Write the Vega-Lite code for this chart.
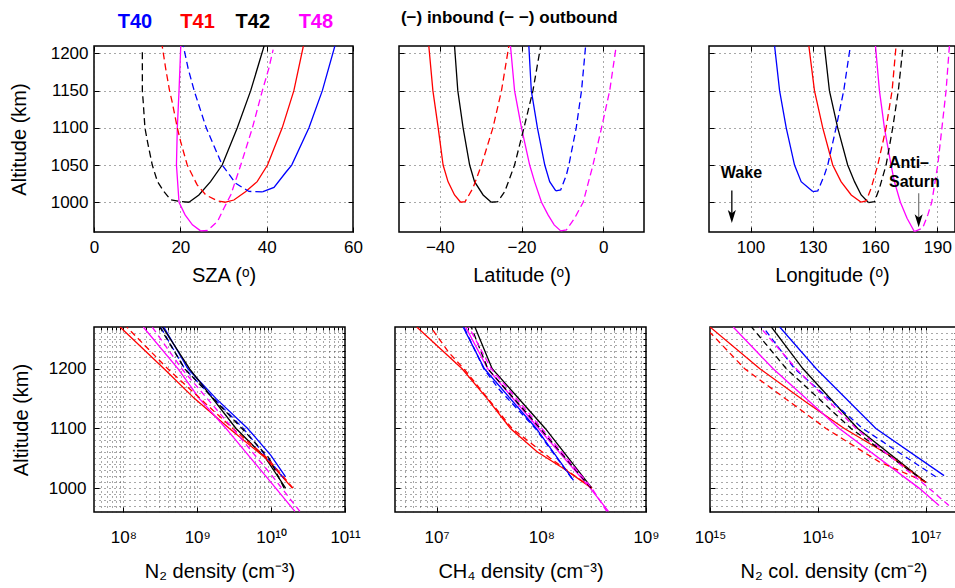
{
  "$schema": "https://vega.github.io/schema/vega-lite/v6.json",
  "background": "white",
  "padding": {"left": 8, "top": 8, "right": 0, "bottom": 0},
  "datasets": {
    "sza": [
      {"f":"T40","l":"in","a":1210,"v":55.8},{"f":"T40","l":"in","a":1150,"v":52.9},{"f":"T40","l":"in","a":1100,"v":49.8},{"f":"T40","l":"in","a":1050,"v":45.8},{"f":"T40","l":"in","a":1040,"v":44.4},{"f":"T40","l":"in","a":1020,"v":41.7},{"f":"T40","l":"in","a":1014,"v":39.0},
      {"f":"T40","l":"out","a":1014,"v":39.0},{"f":"T40","l":"out","a":1014.5,"v":35.9},{"f":"T40","l":"out","a":1025.5,"v":32.8},{"f":"T40","l":"out","a":1050,"v":29.7},{"f":"T40","l":"out","a":1081,"v":27.4},{"f":"T40","l":"out","a":1100,"v":26.0},{"f":"T40","l":"out","a":1150,"v":23.2},{"f":"T40","l":"out","a":1180,"v":21.8},{"f":"T40","l":"out","a":1210,"v":20.7},
      {"f":"T41","l":"in","a":1210,"v":48.5},{"f":"T41","l":"in","a":1150,"v":46.3},{"f":"T41","l":"in","a":1100,"v":43.6},{"f":"T41","l":"in","a":1050,"v":40.2},{"f":"T41","l":"in","a":1027.7,"v":37.8},{"f":"T41","l":"in","a":1014,"v":35.1},{"f":"T41","l":"in","a":1003,"v":32.4},{"f":"T41","l":"in","a":1000,"v":30.5},
      {"f":"T41","l":"out","a":1000,"v":30.5},{"f":"T41","l":"out","a":1001.8,"v":28.6},{"f":"T41","l":"out","a":1009.8,"v":25.9},{"f":"T41","l":"out","a":1023.3,"v":23.9},{"f":"T41","l":"out","a":1050,"v":21.6},{"f":"T41","l":"out","a":1081,"v":20.1},{"f":"T41","l":"out","a":1100,"v":19.3},{"f":"T41","l":"out","a":1135,"v":18.1},{"f":"T41","l":"out","a":1150,"v":17.5},{"f":"T41","l":"out","a":1180,"v":16.6},{"f":"T41","l":"out","a":1210,"v":15.8},
      {"f":"T42","l":"in","a":1210,"v":39.4},{"f":"T42","l":"in","a":1150,"v":36.3},{"f":"T42","l":"in","a":1100,"v":33.2},{"f":"T42","l":"in","a":1050,"v":29.7},{"f":"T42","l":"in","a":1027.7,"v":27.0},{"f":"T42","l":"in","a":1009.8,"v":24.3},{"f":"T42","l":"in","a":1000,"v":22.0},
      {"f":"T42","l":"out","a":1000,"v":22.0},{"f":"T42","l":"out","a":1000.9,"v":20.1},{"f":"T42","l":"out","a":1003.1,"v":17.8},{"f":"T42","l":"out","a":1014.3,"v":16.2},{"f":"T42","l":"out","a":1027.7,"v":14.7},{"f":"T42","l":"out","a":1050,"v":13.5},{"f":"T42","l":"out","a":1081,"v":12.4},{"f":"T42","l":"out","a":1100,"v":11.8},{"f":"T42","l":"out","a":1135,"v":11.4},{"f":"T42","l":"out","a":1150,"v":11.2},{"f":"T42","l":"out","a":1205,"v":11.2},
      {"f":"T48","l":"in","a":1210,"v":20.1},{"f":"T48","l":"in","a":1150,"v":19.7},{"f":"T48","l":"in","a":1100,"v":19.3},{"f":"T48","l":"in","a":1050,"v":19.1},{"f":"T48","l":"in","a":1000,"v":19.7},{"f":"T48","l":"in","a":983,"v":21.1},{"f":"T48","l":"in","a":969.6,"v":22.8},{"f":"T48","l":"in","a":961.5,"v":24.7},
      {"f":"T48","l":"out","a":961.5,"v":24.7},{"f":"T48","l":"out","a":962,"v":26.3},{"f":"T48","l":"out","a":974,"v":28.6},{"f":"T48","l":"out","a":992,"v":30.1},{"f":"T48","l":"out","a":1010,"v":31.7},{"f":"T48","l":"out","a":1050,"v":34.0},{"f":"T48","l":"out","a":1100,"v":36.7},{"f":"T48","l":"out","a":1150,"v":39.0},{"f":"T48","l":"out","a":1180,"v":40.5},{"f":"T48","l":"out","a":1205,"v":41.5}
    ],
    "lat": [
      {"f":"T41","l":"in","a":1210,"v":-42.7},{"f":"T41","l":"in","a":1150,"v":-41.7},{"f":"T41","l":"in","a":1100,"v":-40.4},{"f":"T41","l":"in","a":1050,"v":-39.2},{"f":"T41","l":"in","a":1027.7,"v":-38.0},{"f":"T41","l":"in","a":1009.8,"v":-36.4},{"f":"T41","l":"in","a":1000,"v":-34.9},
      {"f":"T41","l":"out","a":1000,"v":-34.9},{"f":"T41","l":"out","a":1000.9,"v":-33.8},{"f":"T41","l":"out","a":1018.8,"v":-31.9},{"f":"T41","l":"out","a":1050,"v":-29.8},{"f":"T41","l":"out","a":1100,"v":-27.0},{"f":"T41","l":"out","a":1150,"v":-24.9},{"f":"T41","l":"out","a":1210,"v":-23.1},
      {"f":"T42","l":"in","a":1210,"v":-36.4},{"f":"T42","l":"in","a":1150,"v":-35.6},{"f":"T42","l":"in","a":1100,"v":-34.3},{"f":"T42","l":"in","a":1050,"v":-32.7},{"f":"T42","l":"in","a":1027.7,"v":-31.5},{"f":"T42","l":"in","a":1009.8,"v":-29.4},{"f":"T42","l":"in","a":1000,"v":-27.4},
      {"f":"T42","l":"out","a":1000,"v":-27.4},{"f":"T42","l":"out","a":1000.9,"v":-25.8},{"f":"T42","l":"out","a":1014.3,"v":-24.1},{"f":"T42","l":"out","a":1050,"v":-21.7},{"f":"T42","l":"out","a":1100,"v":-19.4},{"f":"T42","l":"out","a":1150,"v":-17.2},{"f":"T42","l":"out","a":1210,"v":-15.3},
      {"f":"T40","l":"in","a":1210,"v":-18.2},{"f":"T40","l":"in","a":1150,"v":-17.6},{"f":"T40","l":"in","a":1100,"v":-16.1},{"f":"T40","l":"in","a":1050,"v":-14.3},{"f":"T40","l":"in","a":1027.7,"v":-13.1},{"f":"T40","l":"in","a":1015.2,"v":-11.6},
      {"f":"T40","l":"out","a":1015.2,"v":-11.6},{"f":"T40","l":"out","a":1016.6,"v":-10.4},{"f":"T40","l":"out","a":1036.7,"v":-9.0},{"f":"T40","l":"out","a":1050,"v":-8.4},{"f":"T40","l":"out","a":1100,"v":-6.6},{"f":"T40","l":"out","a":1150,"v":-5.3},{"f":"T40","l":"out","a":1210,"v":-4.3},
      {"f":"T48","l":"in","a":1210,"v":-22.7},{"f":"T48","l":"in","a":1150,"v":-21.7},{"f":"T48","l":"in","a":1100,"v":-20.0},{"f":"T48","l":"in","a":1050,"v":-18.0},{"f":"T48","l":"in","a":1027.7,"v":-16.8},{"f":"T48","l":"in","a":1000,"v":-15.1},{"f":"T48","l":"in","a":983,"v":-13.5},{"f":"T48","l":"in","a":969.6,"v":-12.0},{"f":"T48","l":"in","a":961.5,"v":-10.4},
      {"f":"T48","l":"out","a":961.5,"v":-10.4},{"f":"T48","l":"out","a":962.9,"v":-9.0},{"f":"T48","l":"out","a":978.5,"v":-7.0},{"f":"T48","l":"out","a":1000,"v":-4.9},{"f":"T48","l":"out","a":1050,"v":-2.5},{"f":"T48","l":"out","a":1100,"v":-0.4},{"f":"T48","l":"out","a":1150,"v":1.6},{"f":"T48","l":"out","a":1210,"v":3.2}
    ],
    "lon": [
      {"f":"T40","l":"in","a":1210,"v":111.6},{"f":"T40","l":"in","a":1150,"v":114.0},{"f":"T40","l":"in","a":1100,"v":117.2},{"f":"T40","l":"in","a":1050,"v":121.2},{"f":"T40","l":"in","a":1027.7,"v":124.4},{"f":"T40","l":"in","a":1014.3,"v":130.0},
      {"f":"T40","l":"out","a":1014.3,"v":130.0},{"f":"T40","l":"out","a":1015.2,"v":132.4},{"f":"T40","l":"out","a":1036.7,"v":135.6},{"f":"T40","l":"out","a":1050,"v":137.2},{"f":"T40","l":"out","a":1100,"v":141.2},{"f":"T40","l":"out","a":1150,"v":144.9},{"f":"T40","l":"out","a":1210,"v":148.1},
      {"f":"T41","l":"in","a":1210,"v":128.1},{"f":"T41","l":"in","a":1150,"v":130.8},{"f":"T41","l":"in","a":1100,"v":134.8},{"f":"T41","l":"in","a":1050,"v":139.6},{"f":"T41","l":"in","a":1027.7,"v":143.6},{"f":"T41","l":"in","a":1009.8,"v":148.5},{"f":"T41","l":"in","a":1000,"v":153.3},
      {"f":"T41","l":"out","a":1000,"v":153.3},{"f":"T41","l":"out","a":1001.8,"v":155.7},{"f":"T41","l":"out","a":1018.8,"v":158.1},{"f":"T41","l":"out","a":1050,"v":161.3},{"f":"T41","l":"out","a":1100,"v":165.3},{"f":"T41","l":"out","a":1150,"v":168.2},{"f":"T41","l":"out","a":1210,"v":170.1},
      {"f":"T42","l":"in","a":1210,"v":135.6},{"f":"T42","l":"in","a":1150,"v":138.0},{"f":"T42","l":"in","a":1100,"v":142.0},{"f":"T42","l":"in","a":1050,"v":146.8},{"f":"T42","l":"in","a":1027.7,"v":150.1},{"f":"T42","l":"in","a":1009.8,"v":153.3},{"f":"T42","l":"in","a":999.6,"v":156.8},
      {"f":"T42","l":"out","a":999.6,"v":156.8},{"f":"T42","l":"out","a":1000.9,"v":159.7},{"f":"T42","l":"out","a":1018.8,"v":162.1},{"f":"T42","l":"out","a":1050,"v":165.3},{"f":"T42","l":"out","a":1100,"v":168.5},{"f":"T42","l":"out","a":1150,"v":171.2},{"f":"T42","l":"out","a":1210,"v":173.5},
      {"f":"T48","l":"in","a":1210,"v":160.2},{"f":"T48","l":"in","a":1150,"v":162.1},{"f":"T48","l":"in","a":1100,"v":164.5},{"f":"T48","l":"in","a":1050,"v":167.7},{"f":"T48","l":"in","a":1027.7,"v":169.3},{"f":"T48","l":"in","a":1000,"v":172.2},{"f":"T48","l":"in","a":978.5,"v":175.4},{"f":"T48","l":"in","a":960.6,"v":178.9},
      {"f":"T48","l":"out","a":960.6,"v":178.9},{"f":"T48","l":"out","a":965.1,"v":182.9},{"f":"T48","l":"out","a":983,"v":185.4},{"f":"T48","l":"out","a":1000,"v":187.3},{"f":"T48","l":"out","a":1050,"v":190.2},{"f":"T48","l":"out","a":1100,"v":192.2},{"f":"T48","l":"out","a":1150,"v":194.2},{"f":"T48","l":"out","a":1210,"v":195.8}
    ],
    "n2": [
      {"f":"T40","l":"in","a":1270,"v":3.52e8},{"f":"T40","l":"in","a":1200,"v":7.48e8},{"f":"T40","l":"in","a":1150,"v":1.80e9},{"f":"T40","l":"in","a":1100,"v":4.81e9},{"f":"T40","l":"in","a":1055,"v":9.91e9},{"f":"T40","l":"in","a":1019,"v":1.57e10},
      {"f":"T40","l":"out","a":1270,"v":3.18e8},{"f":"T40","l":"out","a":1200,"v":6.76e8},{"f":"T40","l":"out","a":1100,"v":4.20e9},{"f":"T40","l":"out","a":1016,"v":1.50e10},
      {"f":"T42","l":"in","a":1270,"v":3.38e8},{"f":"T42","l":"in","a":1200,"v":7.89e8},{"f":"T42","l":"in","a":1100,"v":3.35e9},{"f":"T42","l":"in","a":1050,"v":8.47e9},{"f":"T42","l":"in","a":1000,"v":1.57e10},
      {"f":"T42","l":"out","a":1270,"v":3.11e8},{"f":"T42","l":"out","a":1200,"v":6.76e8},{"f":"T42","l":"out","a":1100,"v":4.03e9},{"f":"T42","l":"out","a":1050,"v":9.40e9},{"f":"T42","l":"out","a":1000,"v":1.50e10},
      {"f":"T41","l":"in","a":1270,"v":9.02e7},{"f":"T41","l":"in","a":1200,"v":3.55e8},{"f":"T41","l":"in","a":1150,"v":9.20e8},{"f":"T41","l":"in","a":1100,"v":2.72e9},{"f":"T41","l":"in","a":1050,"v":8.47e9},{"f":"T41","l":"in","a":1000,"v":1.94e10},
      {"f":"T41","l":"out","a":1270,"v":1.11e8},{"f":"T41","l":"out","a":1200,"v":3.98e8},{"f":"T41","l":"out","a":1100,"v":3.02e9},{"f":"T41","l":"out","a":1050,"v":8.93e9},{"f":"T41","l":"out","a":1000,"v":1.98e10},
      {"f":"T48","l":"in","a":1270,"v":1.86e8},{"f":"T48","l":"in","a":1200,"v":5.50e8},{"f":"T48","l":"in","a":1150,"v":1.07e9},{"f":"T48","l":"in","a":1100,"v":2.45e9},{"f":"T48","l":"in","a":1060,"v":4.56e9},{"f":"T48","l":"in","a":1020,"v":8.47e9},{"f":"T48","l":"in","a":961,"v":2.10e10},
      {"f":"T48","l":"out","a":1270,"v":2.45e8},{"f":"T48","l":"out","a":1200,"v":6.17e8},{"f":"T48","l":"out","a":1100,"v":3.02e9},{"f":"T48","l":"out","a":1020,"v":1.04e10},{"f":"T48","l":"out","a":961,"v":2.45e10}
    ],
    "ch4": [
      {"f":"T41","l":"in","a":1270,"v":6.46e6},{"f":"T41","l":"in","a":1200,"v":1.75e7},{"f":"T41","l":"in","a":1150,"v":3.04e7},{"f":"T41","l":"in","a":1100,"v":5.07e7},{"f":"T41","l":"in","a":1061,"v":9.10e7},{"f":"T41","l":"in","a":1033,"v":1.63e8},{"f":"T41","l":"in","a":1000,"v":3.04e8},
      {"f":"T41","l":"out","a":1270,"v":8.77e6},{"f":"T41","l":"out","a":1227,"v":1.31e7},{"f":"T41","l":"out","a":1200,"v":1.82e7},{"f":"T41","l":"out","a":1100,"v":5.25e7},{"f":"T41","l":"out","a":1050,"v":1.22e8},{"f":"T41","l":"out","a":1000,"v":3.04e8},
      {"f":"T42","l":"in","a":1270,"v":2.32e7},{"f":"T42","l":"in","a":1200,"v":3.39e7},{"f":"T42","l":"in","a":1100,"v":1.09e8},{"f":"T42","l":"in","a":1000,"v":3.04e8},
      {"f":"T42","l":"out","a":1270,"v":2.14e7},{"f":"T42","l":"out","a":1200,"v":3.08e7},{"f":"T42","l":"out","a":1100,"v":9.77e7},{"f":"T42","l":"out","a":1000,"v":2.99e8},
      {"f":"T40","l":"in","a":1270,"v":1.79e7},{"f":"T40","l":"in","a":1200,"v":2.86e7},{"f":"T40","l":"in","a":1100,"v":8.95e7},{"f":"T40","l":"in","a":1013,"v":2.03e8},
      {"f":"T40","l":"out","a":1270,"v":1.82e7},{"f":"T40","l":"out","a":1200,"v":2.82e7},{"f":"T40","l":"out","a":1166,"v":3.93e7},{"f":"T40","l":"out","a":1100,"v":8.77e7},{"f":"T40","l":"out","a":1016,"v":1.96e8},
      {"f":"T48","l":"in","a":1270,"v":1.89e7},{"f":"T48","l":"in","a":1200,"v":3.08e7},{"f":"T48","l":"in","a":1100,"v":9.44e7},{"f":"T48","l":"in","a":1000,"v":2.93e8},{"f":"T48","l":"in","a":961,"v":4.38e8},
      {"f":"T48","l":"out","a":1270,"v":2.03e7},{"f":"T48","l":"out","a":1200,"v":3.32e7},{"f":"T48","l":"out","a":1100,"v":1.01e8},{"f":"T48","l":"out","a":1000,"v":3.04e8},{"f":"T48","l":"out","a":961,"v":4.22e8}
    ],
    "col": [
      {"f":"T40","l":"in","a":1270,"v":4.43e15},{"f":"T40","l":"in","a":1200,"v":9.66e15},{"f":"T40","l":"in","a":1100,"v":3.45e16},{"f":"T40","l":"in","a":1021,"v":1.48e17},
      {"f":"T40","l":"out","a":1270,"v":3.10e15},{"f":"T40","l":"out","a":1200,"v":6.10e15},{"f":"T40","l":"out","a":1100,"v":2.60e16},{"f":"T40","l":"out","a":1019,"v":1.24e17},
      {"f":"T42","l":"in","a":1270,"v":3.71e15},{"f":"T42","l":"in","a":1200,"v":7.28e15},{"f":"T42","l":"in","a":1100,"v":2.34e16},{"f":"T42","l":"in","a":1010,"v":1.0e17},
      {"f":"T42","l":"out","a":1270,"v":2.43e15},{"f":"T42","l":"out","a":1200,"v":5.11e15},{"f":"T42","l":"out","a":1100,"v":2.03e16},{"f":"T42","l":"out","a":1010,"v":1.0e17},
      {"f":"T41","l":"in","a":1270,"v":1.0e15},{"f":"T41","l":"in","a":1200,"v":2.90e15},{"f":"T41","l":"in","a":1144,"v":7.80e15},{"f":"T41","l":"in","a":1100,"v":1.76e16},{"f":"T41","l":"in","a":1055,"v":4.59e16},{"f":"T41","l":"in","a":1010,"v":1.0e17},
      {"f":"T41","l":"out","a":1261,"v":1.0e15},{"f":"T41","l":"out","a":1200,"v":2.10e15},{"f":"T41","l":"out","a":1100,"v":1.19e16},{"f":"T41","l":"out","a":1044,"v":3.71e16},{"f":"T41","l":"out","a":1010,"v":1.0e17},
      {"f":"T48","l":"in","a":1270,"v":1.64e15},{"f":"T48","l":"in","a":1200,"v":3.85e15},{"f":"T48","l":"in","a":1100,"v":1.58e16},{"f":"T48","l":"in","a":1000,"v":8.67e16},{"f":"T48","l":"in","a":971,"v":1.33e17},
      {"f":"T48","l":"out","a":1270,"v":2.90e15},{"f":"T48","l":"out","a":1200,"v":6.31e15},{"f":"T48","l":"out","a":1100,"v":2.26e16},{"f":"T48","l":"out","a":1000,"v":1.07e17},{"f":"T48","l":"out","a":971,"v":1.64e17}
    ],
    "flybys": [
      {"f":"T40","v":9.5,"a":1242.3},{"f":"T41","v":24.0,"a":1242.3},{"f":"T42","v":36.8,"a":1242.3},{"f":"T48","v":51.4,"a":1242.3}
    ],
    "legendtext": [
      {"t":"(−) inbound (− −) outbound","v":-23.0,"a":1247.6}
    ],
    "lonlabels": [
      {"t":"Wake","v":85.7,"a":1039.9},{"t":"Anti–","v":166.7,"a":1052.4},{"t":"Saturn","v":166.7,"a":1027.8}
    ],
    "arrows": [
      {"n":"Wake","v":91,"a":1015.7,"a2":980,"h":980.8},
      {"n":"Anti-Saturn","v":181,"a":1012,"a2":976,"h":975}
    ]
  },
  "spacing": 39,
  "vconcat": [
    {
      "hconcat": [
        {
          "width": 259, "height": 186,
          "layer": [
            {
              "data": {"name": "sza"}, "transform": [{"filter": "datum.l == 'in'"}],
              "mark": {"type": "line", "clip": true, "strokeWidth": 1.3},
              "encoding": {
                "x": {"field": "v", "type": "quantitative", "scale": {"domain": [0, 60], "nice": false, "zero": false},
                      "axis": {"orient": "bottom", "values": [0, 20, 40, 60], "title": "SZA (ᵒ)", "grid": true, "labelPadding": 12, "titlePadding": 10}},
                "y": {"field": "a", "type": "quantitative", "scale": {"domain": [960, 1210], "nice": false, "zero": false},
                      "axis": {"orient": "left", "values": [1000, 1050, 1100, 1150, 1200], "format": "d", "title": "Altitude (km)", "grid": true, "labelPadding": 11, "titlePadding": 21}},
                "color": {"field": "f", "type": "nominal", "scale": {"domain": ["T40", "T41", "T42", "T48"], "range": ["#0000ff", "#ff0000", "#000000", "#ff00ff"]}, "legend": null},
                "order": {"field": "a", "type": "quantitative"}
              }
            },
            {
              "data": {"name": "sza"}, "transform": [{"filter": "datum.l == 'out'"}],
              "mark": {"type": "line", "clip": true, "strokeWidth": 1.3, "strokeDash": [7, 4]},
              "encoding": {
                "x": {"field": "v", "type": "quantitative", "scale": {"domain": [0, 60], "nice": false, "zero": false},
                      "axis": {"orient": "top", "values": [0, 20, 40, 60], "labels": false, "title": null, "grid": false}},
                "y": {"field": "a", "type": "quantitative", "scale": {"domain": [960, 1210], "nice": false, "zero": false},
                      "axis": {"orient": "right", "values": [1000, 1050, 1100, 1150, 1200], "labels": false, "title": null, "grid": false}},
                "color": {"field": "f", "type": "nominal", "scale": {"domain": ["T40", "T41", "T42", "T48"], "range": ["#0000ff", "#ff0000", "#000000", "#ff00ff"]}, "legend": null},
                "order": {"field": "a", "type": "quantitative"}
              }
            },
            {
              "data": {"name": "flybys"},
              "mark": {"type": "text", "fontSize": 20, "fontWeight": "bold", "align": "center", "baseline": "middle"},
              "encoding": {
                "x": {"field": "v", "type": "quantitative", "scale": {"domain": [0, 60], "nice": false, "zero": false}, "axis": null},
                "y": {"field": "a", "type": "quantitative", "scale": {"domain": [960, 1210], "nice": false, "zero": false}, "axis": null},
                "text": {"field": "f"},
                "color": {"field": "f", "type": "nominal", "legend": null}
              }
            }
          ]
        },
        {
          "hconcat": [
            {
              "width": 245, "height": 186,
              "layer": [
                {
                  "data": {"name": "lat"}, "transform": [{"filter": "datum.l == 'in'"}],
                  "mark": {"type": "line", "clip": true, "strokeWidth": 1.3},
                  "encoding": {
                    "x": {"field": "v", "type": "quantitative", "scale": {"domain": [-50, 10], "nice": false, "zero": false},
                          "axis": {"orient": "bottom", "values": [-40, -20, 0], "title": "Latitude (ᵒ)", "grid": true, "labelPadding": 12, "titlePadding": 10}},
                    "y": {"field": "a", "type": "quantitative", "scale": {"domain": [960, 1210], "nice": false, "zero": false},
                          "axis": {"orient": "left", "values": [1000, 1050, 1100, 1150, 1200], "labels": false, "title": null, "grid": true}},
                    "color": {"field": "f", "type": "nominal", "scale": {"domain": ["T40", "T41", "T42", "T48"], "range": ["#0000ff", "#ff0000", "#000000", "#ff00ff"]}, "legend": null},
                    "order": {"field": "a", "type": "quantitative"}
                  }
                },
                {
                  "data": {"name": "lat"}, "transform": [{"filter": "datum.l == 'out'"}],
                  "mark": {"type": "line", "clip": true, "strokeWidth": 1.3, "strokeDash": [7, 4]},
                  "encoding": {
                    "x": {"field": "v", "type": "quantitative", "scale": {"domain": [-50, 10], "nice": false, "zero": false},
                          "axis": {"orient": "top", "values": [-40, -20, 0], "labels": false, "title": null, "grid": false}},
                    "y": {"field": "a", "type": "quantitative", "scale": {"domain": [960, 1210], "nice": false, "zero": false},
                          "axis": {"orient": "right", "values": [1000, 1050, 1100, 1150, 1200], "labels": false, "title": null, "grid": false}},
                    "color": {"field": "f", "type": "nominal", "scale": {"domain": ["T40", "T41", "T42", "T48"], "range": ["#0000ff", "#ff0000", "#000000", "#ff00ff"]}, "legend": null},
                    "order": {"field": "a", "type": "quantitative"}
                  }
                },
                {
                  "data": {"name": "legendtext"},
                  "mark": {"type": "text", "fontSize": 17, "fontWeight": "bold", "align": "center", "baseline": "middle", "color": "black"},
                  "encoding": {
                    "x": {"field": "v", "type": "quantitative", "scale": {"domain": [-50, 10], "nice": false, "zero": false}, "axis": null},
                    "y": {"field": "a", "type": "quantitative", "scale": {"domain": [960, 1210], "nice": false, "zero": false}, "axis": null},
                    "text": {"field": "t"}
                  }
                }
              ]
            },
            {
              "width": 246, "height": 186,
              "layer": [
                {
                  "data": {"name": "lon"}, "transform": [{"filter": "datum.l == 'in'"}],
                  "mark": {"type": "line", "clip": true, "strokeWidth": 1.3},
                  "encoding": {
                    "x": {"field": "v", "type": "quantitative", "scale": {"domain": [80, 198.5], "nice": false, "zero": false},
                          "axis": {"orient": "bottom", "values": [100, 130, 160, 190], "title": "Longitude (ᵒ)", "grid": true, "labelPadding": 12, "titlePadding": 10}},
                    "y": {"field": "a", "type": "quantitative", "scale": {"domain": [960, 1210], "nice": false, "zero": false},
                          "axis": {"orient": "left", "values": [1000, 1050, 1100, 1150, 1200], "labels": false, "title": null, "grid": true}},
                    "color": {"field": "f", "type": "nominal", "scale": {"domain": ["T40", "T41", "T42", "T48"], "range": ["#0000ff", "#ff0000", "#000000", "#ff00ff"]}, "legend": null},
                    "order": {"field": "a", "type": "quantitative"}
                  }
                },
                {
                  "data": {"name": "lon"}, "transform": [{"filter": "datum.l == 'out'"}],
                  "mark": {"type": "line", "clip": true, "strokeWidth": 1.3, "strokeDash": [7, 4]},
                  "encoding": {
                    "x": {"field": "v", "type": "quantitative", "scale": {"domain": [80, 198.5], "nice": false, "zero": false},
                          "axis": {"orient": "top", "values": [100, 130, 160, 190], "labels": false, "title": null, "grid": false}},
                    "y": {"field": "a", "type": "quantitative", "scale": {"domain": [960, 1210], "nice": false, "zero": false},
                          "axis": {"orient": "right", "values": [1000, 1050, 1100, 1150, 1200], "labels": false, "title": null, "grid": false}},
                    "color": {"field": "f", "type": "nominal", "scale": {"domain": ["T40", "T41", "T42", "T48"], "range": ["#0000ff", "#ff0000", "#000000", "#ff00ff"]}, "legend": null},
                    "order": {"field": "a", "type": "quantitative"}
                  }
                },
                {
                  "data": {"name": "lonlabels"},
                  "mark": {"type": "text", "fontSize": 16, "fontWeight": "bold", "align": "left", "baseline": "middle", "color": "black"},
                  "encoding": {
                    "x": {"field": "v", "type": "quantitative", "scale": {"domain": [80, 198.5], "nice": false, "zero": false}, "axis": null},
                    "y": {"field": "a", "type": "quantitative", "scale": {"domain": [960, 1210], "nice": false, "zero": false}, "axis": null},
                    "text": {"field": "t"}
                  }
                },
                {
                  "data": {"name": "arrows"}, "transform": [{"filter": "datum.n == 'Wake'"}],
                  "mark": {"type": "rule", "color": "black", "strokeWidth": 1.3},
                  "encoding": {
                    "x": {"field": "v", "type": "quantitative", "scale": {"domain": [80, 198.5], "nice": false, "zero": false}, "axis": null},
                    "y": {"field": "a", "type": "quantitative", "scale": {"domain": [960, 1210], "nice": false, "zero": false}, "axis": null},
                    "y2": {"field": "a2"}
                  }
                },
                {
                  "data": {"name": "arrows"}, "transform": [{"filter": "datum.n == 'Anti-Saturn'"}],
                  "mark": {"type": "rule", "color": "#808080", "strokeWidth": 1.3},
                  "encoding": {
                    "x": {"field": "v", "type": "quantitative", "scale": {"domain": [80, 198.5], "nice": false, "zero": false}, "axis": null},
                    "y": {"field": "a", "type": "quantitative", "scale": {"domain": [960, 1210], "nice": false, "zero": false}, "axis": null},
                    "y2": {"field": "a2"}
                  }
                },
                {
                  "data": {"name": "arrows"},
                  "mark": {"type": "point", "shape": "M-0.62,-1L0,1L0.62,-1L0,-0.5Z", "filled": true, "color": "black", "opacity": 1, "size": 169, "strokeWidth": 0},
                  "encoding": {
                    "x": {"field": "v", "type": "quantitative", "scale": {"domain": [80, 198.5], "nice": false, "zero": false}, "axis": null},
                    "y": {"field": "h", "type": "quantitative", "scale": {"domain": [960, 1210], "nice": false, "zero": false}, "axis": null}
                  }
                }
              ]
            }
          ],
          "spacing": 65,
          "bounds": "flush"
        }
      ],
      "spacing": 46,
      "bounds": "flush"
    },
    {
      "hconcat": [
        {
          "width": 251, "height": 185,
          "layer": [
            {
              "data": {"name": "n2"}, "transform": [{"filter": "datum.l == 'in'"}],
              "mark": {"type": "line", "clip": true, "strokeWidth": 1.3},
              "encoding": {
                "x": {"field": "v", "type": "quantitative", "scale": {"type": "log", "domain": [4e7, 1e11], "nice": false},
                      "axis": {"orient": "bottom", "values": [1e8, 1e9, 1e10, 1e11], "labelExpr": "datum.value < 3e8 ? '10⁸' : datum.value < 3e9 ? '10⁹' : datum.value < 3e10 ? '10¹⁰' : '10¹¹'", "title": "N₂ density (cm⁻³)", "grid": false, "labelPadding": 22, "titlePadding": 16}},
                "y": {"field": "a", "type": "quantitative", "scale": {"domain": [960, 1270], "nice": false, "zero": false},
                      "axis": {"orient": "left", "values": [1000, 1100, 1200], "format": "d", "title": "Altitude (km)", "grid": false, "labelPadding": 13, "titlePadding": 17}},
                "color": {"field": "f", "type": "nominal", "scale": {"domain": ["T40", "T41", "T42", "T48"], "range": ["#0000ff", "#ff0000", "#000000", "#ff00ff"]}, "legend": null},
                "order": {"field": "a", "type": "quantitative"}
              }
            },
            {
              "data": {"name": "n2"}, "transform": [{"filter": "datum.l == 'out'"}],
              "mark": {"type": "line", "clip": true, "strokeWidth": 1.3, "strokeDash": [6, 4]},
              "encoding": {
                "x": {"field": "v", "type": "quantitative", "scale": {"type": "log", "domain": [4e7, 1e11], "nice": false},
                      "axis": {"orient": "top", "values": [5e7, 6e7, 7e7, 8e7, 9e7, 1e8, 2e8, 3e8, 4e8, 5e8, 6e8, 7e8, 8e8, 9e8, 1e9, 2e9, 3e9, 4e9, 5e9, 6e9, 7e9, 8e9, 9e9, 1e10, 2e10, 3e10, 4e10, 5e10, 6e10, 7e10, 8e10, 9e10], "labels": false, "title": null, "grid": true, "tickSize": -3}},
                "y": {"field": "a", "type": "quantitative", "scale": {"domain": [960, 1270], "nice": false, "zero": false},
                      "axis": {"orient": "right", "values": [970, 980, 990, 1000, 1010, 1020, 1030, 1040, 1050, 1060, 1070, 1080, 1090, 1100, 1110, 1120, 1130, 1140, 1150, 1160, 1170, 1180, 1190, 1200, 1210, 1220, 1230, 1240, 1250, 1260], "labels": false, "title": null, "grid": true, "tickSize": -3}},
                "color": {"field": "f", "type": "nominal", "scale": {"domain": ["T40", "T41", "T42", "T48"], "range": ["#0000ff", "#ff0000", "#000000", "#ff00ff"]}, "legend": null},
                "order": {"field": "a", "type": "quantitative"}
              }
            }
          ]
        },
        {
          "hconcat": [
            {
              "width": 251, "height": 185,
              "layer": [
                {
                  "data": {"name": "ch4"}, "transform": [{"filter": "datum.l == 'in'"}],
                  "mark": {"type": "line", "clip": true, "strokeWidth": 1.3},
                  "encoding": {
                    "x": {"field": "v", "type": "quantitative", "scale": {"type": "log", "domain": [4e6, 1e9], "nice": false},
                          "axis": {"orient": "bottom", "values": [1e7, 1e8, 1e9], "labelExpr": "datum.value < 3e7 ? '10⁷' : datum.value < 3e8 ? '10⁸' : '10⁹'", "title": "CH₄ density (cm⁻³)", "grid": false, "labelPadding": 22, "titlePadding": 16}},
                    "y": {"field": "a", "type": "quantitative", "scale": {"domain": [960, 1270], "nice": false, "zero": false},
                          "axis": {"orient": "left", "values": [1000, 1100, 1200], "labels": false, "title": null, "grid": false}},
                    "color": {"field": "f", "type": "nominal", "scale": {"domain": ["T40", "T41", "T42", "T48"], "range": ["#0000ff", "#ff0000", "#000000", "#ff00ff"]}, "legend": null},
                    "order": {"field": "a", "type": "quantitative"}
                  }
                },
                {
                  "data": {"name": "ch4"}, "transform": [{"filter": "datum.l == 'out'"}],
                  "mark": {"type": "line", "clip": true, "strokeWidth": 1.3, "strokeDash": [6, 4]},
                  "encoding": {
                    "x": {"field": "v", "type": "quantitative", "scale": {"type": "log", "domain": [4e6, 1e9], "nice": false},
                          "axis": {"orient": "top", "values": [5e6, 6e6, 7e6, 8e6, 9e6, 1e7, 2e7, 3e7, 4e7, 5e7, 6e7, 7e7, 8e7, 9e7, 1e8, 2e8, 3e8, 4e8, 5e8, 6e8, 7e8, 8e8, 9e8], "labels": false, "title": null, "grid": true, "tickSize": -3}},
                    "y": {"field": "a", "type": "quantitative", "scale": {"domain": [960, 1270], "nice": false, "zero": false},
                          "axis": {"orient": "right", "values": [970, 980, 990, 1000, 1010, 1020, 1030, 1040, 1050, 1060, 1070, 1080, 1090, 1100, 1110, 1120, 1130, 1140, 1150, 1160, 1170, 1180, 1190, 1200, 1210, 1220, 1230, 1240, 1250, 1260], "labels": false, "title": null, "grid": true, "tickSize": -3}},
                    "color": {"field": "f", "type": "nominal", "scale": {"domain": ["T40", "T41", "T42", "T48"], "range": ["#0000ff", "#ff0000", "#000000", "#ff00ff"]}, "legend": null},
                    "order": {"field": "a", "type": "quantitative"}
                  }
                }
              ]
            },
            {
              "width": 247, "height": 185,
              "layer": [
                {
                  "data": {"name": "col"}, "transform": [{"filter": "datum.l == 'in'"}],
                  "mark": {"type": "line", "clip": true, "strokeWidth": 1.3},
                  "encoding": {
                    "x": {"field": "v", "type": "quantitative", "scale": {"type": "log", "domain": [1e15, 1.95e17], "nice": false},
                          "axis": {"orient": "bottom", "values": [1e15, 1e16, 1e17], "labelExpr": "datum.value < 3e15 ? '10¹⁵' : datum.value < 3e16 ? '10¹⁶' : '10¹⁷'", "title": "N₂ col. density (cm⁻²)", "grid": false, "labelPadding": 22, "titlePadding": 16}},
                    "y": {"field": "a", "type": "quantitative", "scale": {"domain": [960, 1270], "nice": false, "zero": false},
                          "axis": {"orient": "left", "values": [1000, 1100, 1200], "labels": false, "title": null, "grid": false}},
                    "color": {"field": "f", "type": "nominal", "scale": {"domain": ["T40", "T41", "T42", "T48"], "range": ["#0000ff", "#ff0000", "#000000", "#ff00ff"]}, "legend": null},
                    "order": {"field": "a", "type": "quantitative"}
                  }
                },
                {
                  "data": {"name": "col"}, "transform": [{"filter": "datum.l == 'out'"}],
                  "mark": {"type": "line", "clip": true, "strokeWidth": 1.3, "strokeDash": [6, 4]},
                  "encoding": {
                    "x": {"field": "v", "type": "quantitative", "scale": {"type": "log", "domain": [1e15, 1.95e17], "nice": false},
                          "axis": {"orient": "top", "values": [2e15, 3e15, 4e15, 5e15, 6e15, 7e15, 8e15, 9e15, 1e16, 2e16, 3e16, 4e16, 5e16, 6e16, 7e16, 8e16, 9e16, 1e17], "labels": false, "title": null, "grid": true, "tickSize": -3}},
                    "y": {"field": "a", "type": "quantitative", "scale": {"domain": [960, 1270], "nice": false, "zero": false},
                          "axis": {"orient": "right", "values": [970, 980, 990, 1000, 1010, 1020, 1030, 1040, 1050, 1060, 1070, 1080, 1090, 1100, 1110, 1120, 1130, 1140, 1150, 1160, 1170, 1180, 1190, 1200, 1210, 1220, 1230, 1240, 1250, 1260], "labels": false, "title": null, "grid": true, "tickSize": -3}},
                    "color": {"field": "f", "type": "nominal", "scale": {"domain": ["T40", "T41", "T42", "T48"], "range": ["#0000ff", "#ff0000", "#000000", "#ff00ff"]}, "legend": null},
                    "order": {"field": "a", "type": "quantitative"}
                  }
                }
              ]
            }
          ],
          "spacing": 64,
          "bounds": "flush"
        }
      ],
      "spacing": 50,
      "bounds": "flush"
    }
  ],
  "config": {
    "font": "Liberation Sans",
    "view": {"stroke": "black", "strokeWidth": 1.5},
    "axis": {
      "domain": false,
      "labelFont": "Liberation Sans", "labelFontSize": 17, "labelColor": "black",
      "titleFont": "Liberation Sans", "titleFontSize": 20, "titleFontWeight": "normal", "titleColor": "black",
      "tickColor": "black", "tickSize": -5, "tickWidth": 1,
      "labelPadding": 16, "labelFlush": false, "labelOverlap": false, "labelBound": false,
      "minExtent": 0,
      "gridColor": "#333333", "gridDash": [1, 4], "gridOpacity": 0.85, "gridWidth": 1,
      "titlePadding": 5
    },
    "text": {"font": "Liberation Sans"}
  }
}
